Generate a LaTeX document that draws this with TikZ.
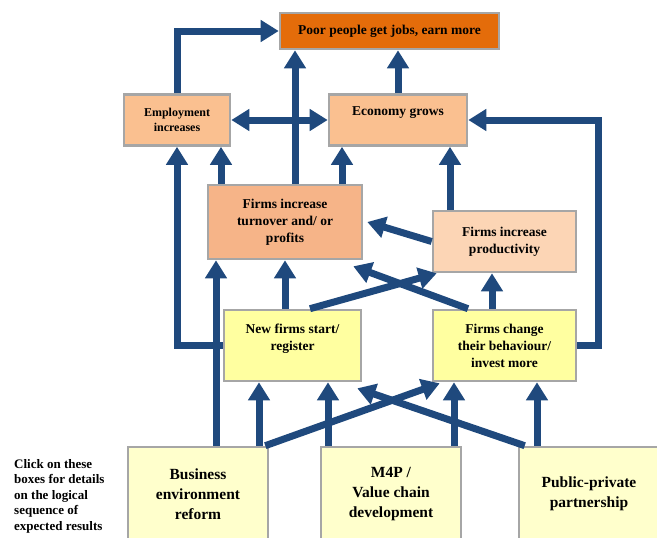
\documentclass[tikz,border=0pt]{standalone}
\usepackage{fontspec}
\setmainfont{Liberation Serif}
\usetikzlibrary{positioning, arrows.meta}
\definecolor{ArrowBlue}{RGB}{31, 73, 125}
\definecolor{GoalOrange}{RGB}{228, 108, 10}
\definecolor{OutcomeOrange}{RGB}{250, 192, 144}
\definecolor{FirmOrange}{RGB}{246, 180, 136}
\definecolor{ProdPeach}{RGB}{252, 213, 181}
\definecolor{ChangeYellow}{RGB}{255, 255, 160}
\definecolor{ActionYellow}{RGB}{255, 255, 204}
\definecolor{FrameGrey}{RGB}{166, 166, 166}

\tikzset{
  resultbox/.style={draw=FrameGrey, line width=2.6pt, align=center, inner sep=0pt,
                    font=\bfseries\fontsize{13.5}{17}\selectfont},
  actionbox/.style={resultbox, fill=ActionYellow, minimum width=140pt, minimum height=94pt,
                    font=\bfseries\fontsize{15.5}{20}\selectfont},
  flow/.style={draw=ArrowBlue, line width=7pt, -{Triangle[width=21pt,length=18pt]}},
  twoway/.style={flow, {Triangle[width=21pt,length=18pt]}-{Triangle[width=21pt,length=18pt]}}
}

\begin{document}
\begin{tikzpicture}[x=1pt, y=-1pt]
            \useasboundingbox (0,0) rectangle (657,538);
            \clip (0,0) rectangle (657,538);
            % Goal and outcome boxes
            \node[resultbox, fill=GoalOrange, minimum width=219pt, minimum height=36pt] (poor) at (389.5,31) {Poor people get jobs, earn more};
            \node[resultbox, fill=OutcomeOrange, minimum width=106pt, minimum height=51pt,
                  font=\bfseries\fontsize{12}{15}\selectfont] (emp) at (177,120) {Employment\\increases};
            \node[resultbox, fill=OutcomeOrange, minimum width=138pt, minimum height=51pt] (eco) at (398,120) {Economy grows\\\mbox{}};
            % Firm level results
            \node[resultbox, fill=FirmOrange, minimum width=154pt, minimum height=74pt] (turn) at (285,222) {Firms increase\\turnover and/ or\\profits};
            \node[resultbox, fill=ProdPeach, minimum width=143pt, minimum height=61pt] (prod) at (504.5,241.5) {Firms increase\\productivity};
            \node[resultbox, fill=ChangeYellow, minimum width=137pt, minimum height=71pt] (newf) at (292.5,345.5) {New firms start/\\register\\\mbox{}};
            \node[resultbox, fill=ChangeYellow, minimum width=143pt, minimum height=71pt] (chg) at (504.5,345.5) {Firms change\\their behaviour/\\invest more};
            % Bottom row: interventions
            \node[actionbox] (bus) at (198,494) {Business\\environment\\reform};
            \node[actionbox] (m4p) at (391,494) {M4P /\\Value chain\\development};
            \node[actionbox] (pub) at (589,494) {Public-private\\partnership};
            \node[anchor=west, align=left, inner sep=0pt, font=\bfseries\fontsize{13}{15.5}\selectfont] (hint) at (14,496)
                 {Click on these\\boxes for details\\on the logical\\sequence of\\expected results};
            % Arrows into the goal
            \draw[flow] (emp.north) |- (poor.west);
            \draw[flow] (turn.north -| 295,0) -- (poor.south -| 295,0);
            \draw[flow] (eco.north) -- (poor.south -| eco.north);
            \draw[twoway] (emp.east) -- (eco.west);
            % Loops round the sides
            \draw[flow] (newf.west) -| (emp.south);
            \draw[flow] (chg.east) -- ++(21,0) |- (eco.east);
            % Straight arrows upwards
            \foreach \x/\src/\dst in {221/turn/emp, 342/turn/eco, 450/prod/eco,
                                      285/newf/turn, 492/chg/prod, 216/bus/turn,
                                      259/bus/newf, 328/m4p/newf, 454/m4p/chg, 537/pub/chg} {
                \draw[flow] (\src.north -| \x,0) -- (\dst.south -| \x,0);
            }
            % Crossing arrows
            \draw[flow] (prod.west) -- ([xshift=4pt]turn.east);
            \draw[flow] (newf.north -| 310,0) -- ([xshift=5pt]prod.south west);
            \draw[flow] (chg.north -| 468,0) -- ([xshift=-10pt,yshift=-6pt]turn.south east);
            \draw[flow] ([xshift=-4pt]bus.north east) -- ([xshift=8pt,yshift=-1pt]chg.south west);
            \draw[flow] ([xshift=7pt]pub.north west) -- ([xshift=-5pt,yshift=-6pt]newf.south east);
        \end{tikzpicture}
\end{document}
